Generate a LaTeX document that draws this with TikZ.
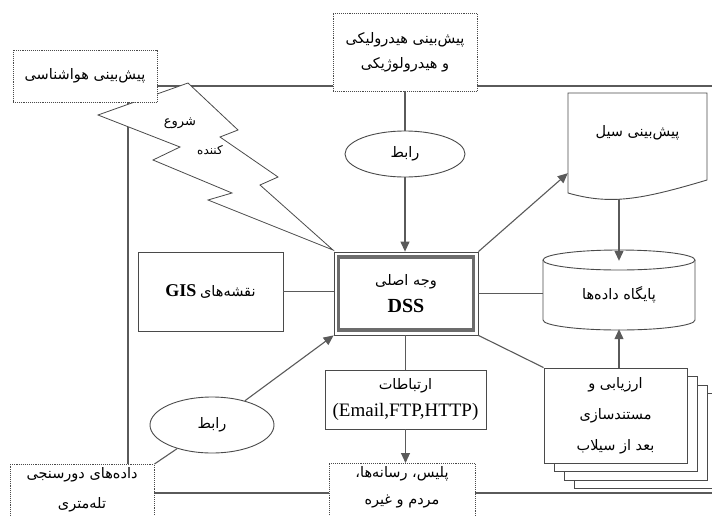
\documentclass[tikz,border=0pt]{standalone}
\usepackage{fontspec}
\setmainfont{Liberation Serif}
\newfontfamily\fa[Script=Arabic]{DejaVu Sans}
\TeXXeTstate=1
\usetikzlibrary{arrows.meta,shapes.geometric}
\definecolor{ln}{HTML}{5A5A5A}
\definecolor{bd}{HTML}{4A4A4A}
\newcommand\fat[1]{{\fa\beginR #1\endR}}
\begin{document}
\begin{tikzpicture}[x=1pt,y=-1pt,
  lnk/.style={draw=ln, line width=1.1pt},
  arr/.style={draw=ln, line width=1.1pt, -{Triangle[width=9pt,length=10pt,fill=ln]}},
  dotbox/.style={draw=bd, densely dotted, line width=0.9pt, fill=white, align=center, font=\fontsize{14.5}{25}\selectfont},
  plainbox/.style={draw=bd, line width=0.9pt, fill=white, align=center, font=\fontsize{14.5}{25}\selectfont},
  oval/.style={ellipse, draw=bd, line width=0.9pt, fill=white, font=\fontsize{14.5}{16}\selectfont},
  txt/.style={align=center, font=\fontsize{14.5}{25}\selectfont}]
\useasboundingbox (0,0) rectangle (712,515);
\fill[white] (0,0) rectangle (712,515);
% frame
\draw[lnk] (128,86) rectangle (760,493);
% lightning
\draw[draw=bd, line width=0.8pt, fill=white] (98,115) -- (188,83) -- (238,130) -- (220,137) -- (278,177) -- (260,185) -- (333,250) -- (208,200) -- (232,193) -- (153,160) -- (180,147) -- cycle;
\node[txt, font=\fontsize{13}{14}\selectfont] (st1) at (180,123) {\fat{شروع}};
\node[txt, font=\fontsize{12}{14}\selectfont] (st2) at (210,150) {\fat{کننده}};
% boxes
\node[dotbox, minimum width=144, minimum height=52] (met) at (85,76) {\fat{پیش‌بینی هواشناسی}};
\node[dotbox, minimum width=144, minimum height=78] (hydro) at (405,52) {\fat{پیش‌بینی هیدرولیکی}\\\fat{و هیدرولوژیکی}};
\node[oval, minimum width=120, minimum height=46] (link1) at (405,154) {\fat{رابط}};
\node[plainbox, minimum width=145, minimum height=79] (gis) at (210.5,291.5) {{\fontsize{18}{20}\selectfont\bfseries GIS}\ \fat{نقشه‌های}};
\node[draw=bd, line width=0.8pt, fill=white, minimum width=144, minimum height=83, align=center, font=\fontsize{14.5}{29}\selectfont] (dss) at (406,293.5) {\fat{وجه اصلی}\\[-2pt]{\fontsize{20}{22}\selectfont\bfseries DSS}};
\draw[draw=gray!85!black, line width=3.5pt] ([shift={(5,5.5)}]dss.north west) rectangle ([shift={(-5,-5.5)}]dss.south east);
% flood forecast document
\draw[draw=bd, line width=0.9pt, fill=white] (568,93) -- (707,93) -- (707,180) .. controls (640,200) and (610,205) .. (568,193) -- cycle;
\node[txt, minimum width=139, minimum height=80] (flood) at (637.5,133) {\fat{پیش‌بینی سیل}};
% database cylinder
\draw[draw=bd, line width=0.9pt, fill=white] (543,260) -- (543,320) arc[start angle=180, end angle=0, x radius=76, y radius=10] -- (695,260);
\draw[draw=bd, line width=0.9pt, fill=white] (619,260) ellipse [x radius=76, y radius=10];
\node[txt, minimum width=152, minimum height=68] (db) at (619,295) {\fat{پایگاه داده‌ها}};
% stack of documents
\foreach \k in {3,2,1} \draw[draw=bd, line width=0.9pt, fill=white] (544+10*\k,368+8.5*\k) rectangle ++(143,95);
\node[plainbox, minimum width=143, minimum height=95, font=\fontsize{14.5}{31}\selectfont] (stack) at (615.5,415.5) {\fat{ارزیابی و}\\\fat{مستندسازی}\\\fat{بعد از سیلاب}};
% communications
\node[plainbox, minimum width=161, minimum height=59, inner sep=1pt, font=\fontsize{14.5}{27}\selectfont] (comm) at (405.5,399.5) {\fat{ارتباطات}\\{\fontsize{19}{20}\selectfont (Email,FTP,HTTP)}};
\node[dotbox, minimum width=146, minimum height=70, anchor=north, font=\fontsize{14.5}{27}\selectfont] (police) at (402,463) {\fat{پلیس، رسانه‌ها،}\\\fat{مردم و غیره}\\[6pt]};
\node[dotbox, minimum width=144, minimum height=70, anchor=north, font=\fontsize{14.5}{30}\selectfont] (tele) at (82,464) {\fat{داده‌های دورسنجی}\\\fat{تله‌متری}\\[-2pt]};
\node[oval, minimum width=124, minimum height=56] (link2) at (212,425) {\fat{رابط}};
% connectors
\draw[lnk] (hydro.south -| link1.north) -- (link1.north);
\draw[arr] (link1.south) -- (link1.south |- dss.north);
\draw[arr] (dss.north east) -- (flood.south west);
\draw[arr] (db.north |- 0,199) -- (db.north);
\draw[lnk] (gis.east) -- (gis.east -| dss.west);
\draw[lnk] (dss.east) -- (dss.east -| db.west);
\draw[lnk] (dss.south east) -- (stack.north west);
\draw[arr] (stack.north -| db.south) -- (db.south);
\draw[lnk] (dss.south -| comm.north) -- (comm.north);
\draw[arr] (comm.south) -- (comm.south |- police.north);
\draw[lnk] (tele.north east) -- (link2);
\draw[arr] (link2) -- (dss.south west);
\end{tikzpicture}
\end{document}
